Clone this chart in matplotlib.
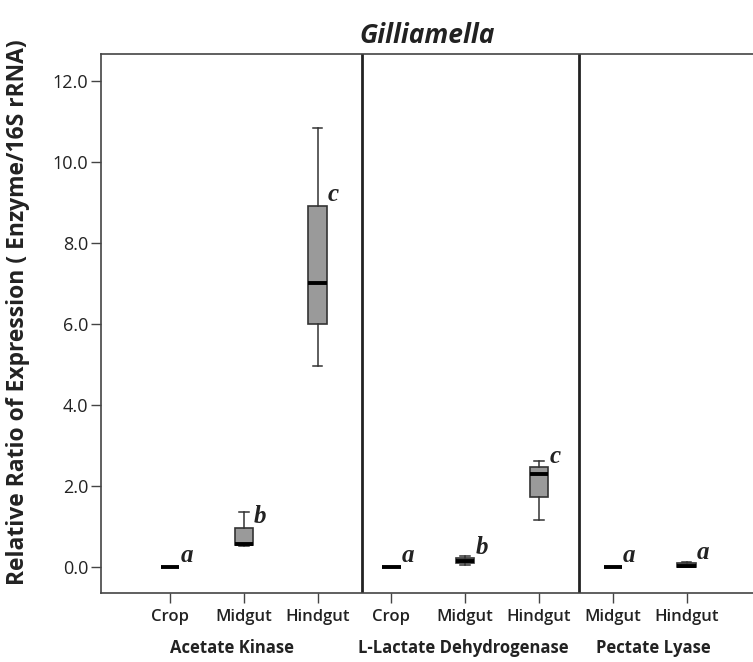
import matplotlib
matplotlib.use("Agg")
import matplotlib.pyplot as plt

# values (relative expression ratio)
categories = ['Crop', 'Midgut', 'Hindgut', 'Crop', 'Midgut', 'Hindgut', 'Midgut', 'Hindgut']
groups = ['Acetate Kinase', 'L-Lactate Dehydrogenase', 'Pectate Lyase']
group_sizes = [3, 3, 2]
whislo = [0.0, 0.52, 4.96, 0.0, 0.03, 1.14, 0.0, 0.0]
q1 = [0.0, 0.53, 5.99, 0.0, 0.09, 1.71, 0.0, 0.0]
med = [0.0, 0.56, 7.01, 0.0, 0.14, 2.28, 0.0, 0.02]
q3 = [0.0, 0.96, 8.91, 0.0, 0.20, 2.45, 0.0, 0.08]
whishi = [0.0, 1.36, 10.85, 0.0, 0.25, 2.62, 0.0, 0.12]
letters = ['a', 'b', 'c', 'a', 'b', 'c', 'a', 'a']
yticks = [0.0, 2.0, 4.0, 6.0, 8.0, 10.0, 12.0]

plt.rcParams['font.family'] = ['Open Sans', 'DejaVu Sans']

fig = plt.figure(figsize=(7.53, 6.62), dpi=100)
ax = fig.add_axes([0.1337, 0.1038, 0.8663, 0.814])

stats = []
for i in range(len(categories)):
    stats.append({'whislo': whislo[i], 'q1': q1[i], 'med': med[i],
                  'q3': q3[i], 'whishi': whishi[i], 'fliers': []})

pos = list(range(len(categories)))
ax.bxp(stats, positions=pos, widths=0.25, patch_artist=True, showfliers=False,
       boxprops=dict(facecolor='#9a9a9a', edgecolor='#333333', linewidth=1.2),
       medianprops=dict(color='black', linewidth=2.8, solid_capstyle='butt'),
       whiskerprops=dict(color='#333333', linewidth=1.1),
       capprops=dict(color='#333333', linewidth=1.1), capwidths=0.13)

for i, let in enumerate(letters):
    ax.text(pos[i] + 0.14, q3[i] + 0.28, let, fontsize=18, fontweight='bold',
            fontstyle='italic', family='Liberation Serif', color='#222222',
            ha='left', va='center')

# group dividers
for xd in [2.6, 5.54]:
    ax.axvline(xd, color='#222222', linewidth=2.0)

ax.set_xlim(-0.94, 7.9)
ax.set_ylim(-0.66, 12.66)
ax.set_yticks(yticks)
ax.set_yticklabels([f'{v:.1f}' for v in yticks], fontsize=13, color='#222222')
ax.set_xticks(pos)
ax.set_xticklabels(categories, fontsize=12, fontweight='semibold', color='#222222')
ax.tick_params(axis='both', direction='out', length=7, width=1, color='#444444', pad=2)
ax.tick_params(axis='x', pad=4)

for side in ['left', 'top', 'bottom']:
    ax.spines[side].set_color('#444444')
    ax.spines[side].set_linewidth(1.2)
ax.spines['right'].set_visible(False)

# group names under the category labels
group_x = [0.84, 3.97, 6.55]
for g, gx in zip(groups, group_x):
    ax.text(gx, -0.102, g, transform=ax.get_xaxis_transform(), ha='center',
            va='center', fontsize=12, fontweight='bold', color='#222222')

ax.set_ylabel('Relative Ratio of Expression ( Enzyme/16S rRNA)', fontsize=16.5,
              fontweight='bold', color='#222222')
ax.yaxis.set_label_coords(-0.108, 0.522)
ax.set_title('Gilliamella', fontsize=19, fontweight='bold', fontstyle='italic',
             color='#222222', pad=8)

fig.savefig('out.png', dpi=100)
